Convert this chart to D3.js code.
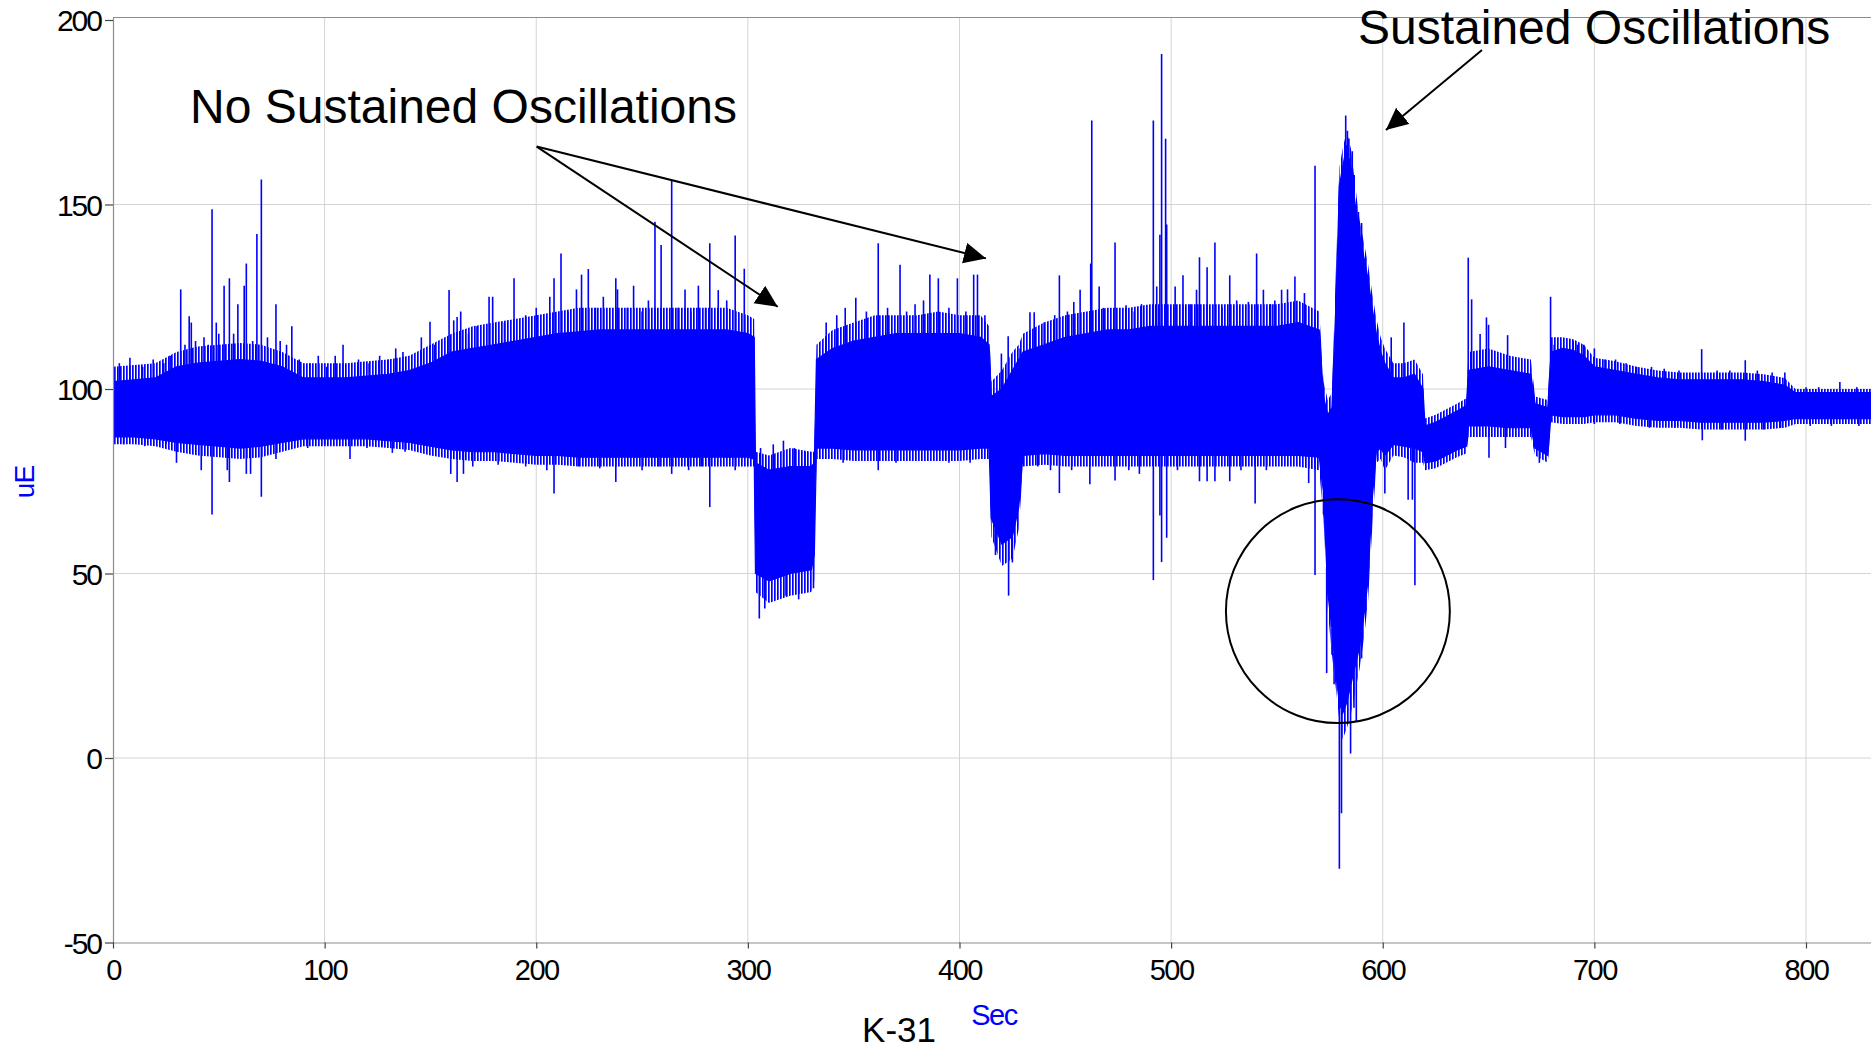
<!DOCTYPE html>
<html><head><meta charset="utf-8">
<script src="https://cdn.jsdelivr.net/npm/d3@7"></script>
<style>
html,body{margin:0;padding:0;background:#fff;}
svg{display:block;font-family:"Liberation Sans",Arial,sans-serif;}
</style>
</head><body>
<svg id="chart" width="1871" height="1049"></svg>
<script>
// ---------- data ----------
const xTicks = [0,100,200,300,400,500,600,700,800];
const yTicks = [-50,0,50,100,150,200];
const xLabel = "Sec";
const yLabel = "uE";
const chartTitle = "K-31";

// dense core band of the signal (time s, lower uE, upper uE)
const coreT  = [0,10,20,30,40,50,60,70,80,90,100,110,120,130,140,150,160,170,180,190,200,210,220,230,240,250,260,270,280,290,300,303,303.6,310,320,330,331.4,332.4,340,350,360,370,380,390,400,410,414,415,420,425,428,430,440,450,460,470,480,490,500,510,520,530,540,550,560,570,572,574,576,578,579.5,581,583,585,587,589,591,593,595,597,599,601,605,610,615,619,620,625,630,635,639.5,640.5,650,660,670,672,678,679.5,685,690,695,700,710,720,730,740,750,760,770,780,790,795,810,831];
const coreLo = [87,87,86.5,85.5,85,84.5,84,84.5,85.5,86.5,86.5,86.5,86.5,86,85.5,84.5,83.5,83,83,82.5,82,82,81.5,81.5,81.5,81.5,81.5,81.5,81.5,81.5,81.5,81,50,48,50,51,55,84,84,83.5,83.5,83.5,83.5,83.5,83.5,84,84,65,58,60,68,82,82.5,82,82,82,82,82,82,82,82,82,82,82,82,81.5,72,45,35,22,15,12,15,20,25,30,38,48,70,83,84,82,85,84.5,84,83,80,80.5,82,83.5,84.5,90,90,89.5,89.5,84,82,93,92.5,92.5,92.5,93,93,92,91.5,91.5,91,91,91,91,91.5,92,92,92];
const coreHi = [102,102.5,103,106,107,107.5,108,107.5,106,103,103,103,103.5,104,105,107,110,111,112,113,114,115,115.5,116,116,116,116,116,116,116,115,114,80,78,79,79,80,108,111,113,114,115,115,115,115,114,112,98,100,105,108,110,112,114,115,116,116,117,117,117,117,117,117,117,118,116,98,93,95,125,155,160,166,160,150,142,136,130,122,115,110,107,103,103,104,100,90,91,92.5,94,95.5,105,106,105,104,96,95,110,111,110.5,109,106,105,104,103,102.5,102.5,102.5,102.5,102,101,99,99,99];
// outer extent of the densely packed oscillation fringe around the core
const fringeLo = [85,85,84.5,83,82,81.5,81,81.5,83,84.5,84.5,84.5,84.5,84,83.5,82,81,80.5,80.5,80,79.5,79.5,79,79,79,79,79,79,79,79,79,79,45,42,44,45,48,81,81,80.5,80.5,80.5,80.5,80.5,80.5,81,81,60,52,54,62,79,79.5,79,79,79,79,79,79,79,79,79,79,79,79,78,65,40,28,18,10,5,8,12,18,24,32,42,62,80,81,78,82,81.5,80,80,78,78.5,80,81.5,82.5,87,87,87,87,82,80,91,90.5,90.5,90.5,91,91,90,89.5,89.5,89,89,89,89,89.5,90.5,90.5,90.5];
const fringeHi = [106,106.5,107,110,111.5,112,112.5,112,110,107,107,107,107.5,108,109,112,115,117,118,119,120,121,122,122,122,122,122,122,122,122,120,119,83,82,84,83,83,112,116,118,120,120,120,121,120,120,117,102,105,110,112,115,118,120,121,122,122,123,123,123,123,123,123,123,124,121,102,97,99,135,160,165,170,165,155,146,140,134,126,119,114,111,107,107,108,104,92,93,94.5,96,97.5,110,111,109,108,98,97,114,114,113.5,112,108.5,107.5,106,105,104.5,104.5,104.5,104.5,104,103,100,100,100];

// individual excursions beyond the core band (time s, uE)
const hairs = [
 [3,107],[8,108.5],[14,106],[19,108],[24,107],[27,109],[5,85],[15,84.5],[25,85],
 [32,127],[34,112],[36,119.7],[37,118],[39,113],[43,114],[45,112],[46.8,148.7],[48.8,118],[50,115],[52.5,128],[55,130],[57,115],[59,123],[62,128],[63,134],[66,113],[68,142],[70.1,156.8],[73,114],[77,123],[79,113],[82,112],[84.5,117],
 [30,80],[41.7,78],[46.8,66],[54,78],[55,74.8],[63,77],[65,77],[70.1,70.8],[77,81],
 [88,108],[93,107],[97,109],[101,106],[105,109],[108.7,112],[116,108],[121,107],[126,109],[130,108],[133.6,111],[137,110],
 [92,84],[100,85],[112,81],[120,84],[127,84.5],[132,82.7],[138,83],
 [145.7,114],[149.8,118.2],[152,112],[158.8,126.8],[161,118.6],[162.6,119.5],[164.3,121],[168,115],[172,117],[177.7,125],[179.4,125],[185,118],[189.5,130],[195,120],[200,122],[206.4,125],[208.4,130],[211.7,136.7],[215,121],[219,127],[221.4,131],[224.6,132.5],[228,122],[231.7,125],[237.6,130],[238.4,127],[243,122],[246,128],[250,121],[253,124],[256.1,145.3],[259,139],[264,156.6],[267,122],[270.3,127],[273,121],[276.6,128],[280,122],
 [159.6,77],[162.6,74.8],[165.6,77],[170,79],[182,79.5],[195,79],[205,78],[208.4,71.7],[220,79],[230,78.5],[237.6,74.8],[250,78],[258,79],[264,77],[272,78],[278,79],
 [282,139.5],[286,126.8],[290,124],[294,141.6],[298.3,132.6],[282,68],[294,78],
 [306,84],[312,85],[316.8,86],[322,84],[327,83],[305.4,37.8],[308,40.5],[318,44],[324,43],[331,46],
 [337,118],[342,120],[346,122],[351,124.7],[356,121],[361.6,139.5],[366,122],[371.9,133.7],[375,121],[379,123],[383,124],[386,131],[390,130],[395,122],[399,130],[403,121],[406.7,131],[408.5,131],[412,120],
 [345,80],[361.6,78],[370,80],[395,80],[405,80],
 [419.8,109.6],[423,114.3],[428.6,111],[417,55],[423.2,44],[425,53],
 [433.3,120.8],[435.3,120.8],[440,118],[445,120],[447.2,130.8],[451,121],[454,123.6],[457,126.9],[462,134],[462.5,172.8],[466,127.8],[468,122],[473.5,139.7],[478.7,122.7],[482.6,121],[486,123],[491.6,172.8],[493.2,127.8],[494.7,141.8],[495.5,190.8],[497.4,167.8],[497.9,144.6],[501.9,127.8],[505.6,130.8],[509,123],[512,126.9],[513.4,135.7],[517,133],[520.7,139.7],[524,122],[527.7,130.8],[531,124],[536.5,123.6],[540.4,136.7],[543.6,126.9],[547,123],[549,124],[552.2,126.9],
 [437,79],[443,78],[447.2,71.8],[453,78],[461.6,74.2],[473.5,75.2],[480,78],[485,77],[491.6,48.2],[494.7,65.7],[495.5,53.1],[497.9,59.7],[503,78],[513.4,75],[517,75],[520.7,75],[527.7,75],[533,78],[539.7,69],[545,78],
 [555,127],[558.5,130.5],[563,126],[568,160.5],[582.5,174.1],[583.3,170],[584,167.9],[585.6,164.4],[586.5,158],[588,143],[588.5,148],[590,145],[604,114],[610,118],
 [565,74.5],[568,49.6],[572,66],[573.5,23],[576,28],[577,20],[579.5,-30],[580.5,-15],[584.8,1.2],[586.4,13.6],[587.5,10],[590,27],[592,40],[601,71.7],[612,70],[614,70],[615.2,46.8],
 [640.4,135.6],[642,124.3],[646,114.9],[649,119.4],[650,117.4],[659,114.6],[679.3,125],[681,112],[650.2,81.4],[658,84],[674,80],
 [690,113],[692,112],[695,112],[700,111],[705,108],[710,108],[715,107],[720,106],[727,106],[733,105.5],[740,105],[750.7,110.8],[758,105],[764,105],[771.3,107.8],[777,105],[784,104.5],[790,104.5],[800,100.5],[806,100.5],[816,101.9],[824,100.5],
 [700,90.5],[712,90.5],[726,89.5],[738,89.5],[751,86.1],[760,89],[771.3,86],[780,89],[788,89.5],[802,90],[812,90],[825,90]
];

// annotations placed in data coordinates
const noSustText = {t:36.4, v:172.1, label:"No Sustained Oscillations"};
const noSustArrows = [{t0:200.2, v0:165.7, t1:314.1, v1:122.3},{t0:200.2, v0:165.7, t1:412.5, v1:135.4}];
const sustText = {t:588.3, v:193.4, label:"Sustained Oscillations"};
const sustArrow = {t0:646.9, v0:191.9, t1:601.5, v1:170.2};
const circleNote = {t:578.8, v:39.8, rSec:52.9};

// ---------- drawing ----------
const svg = d3.select("#chart");
const x = d3.scaleLinear().domain([0, 831]).range([113, 1871.6]);
const y = d3.scaleLinear().domain([-50, 200.68]).range([942.5, 17.5]);
const blue = "#0000ff";

const defs = svg.append("defs");
const pat = defs.append("pattern").attr("id", "hairfill").attr("patternUnits", "userSpaceOnUse")
  .attr("width", 3).attr("height", 6);
pat.append("rect").attr("x", 0).attr("y", 0).attr("width", 1.7).attr("height", 6).attr("fill", blue);

// grid
const grid = svg.append("g");
grid.selectAll("line.v").data(xTicks.filter(d => d > 0)).join("line")
  .attr("x1", d => x(d)).attr("x2", d => x(d)).attr("y1", y(200.68)).attr("y2", y(-50))
  .attr("stroke", "#d4d4d4").attr("stroke-width", 1);
grid.selectAll("line.h").data(yTicks.filter(d => d > -50 && d < 200)).join("line")
  .attr("x1", x(0)).attr("x2", 1871).attr("y1", d => y(d)).attr("y2", d => y(d))
  .attr("stroke", "#d4d4d4").attr("stroke-width", 1);

// clip
svg.append("clipPath").attr("id", "plotclip").append("rect")
  .attr("x", x(0)).attr("y", y(200.68)).attr("width", 1871 - x(0)).attr("height", y(-50) - y(200.68));

const plot = svg.append("g").attr("clip-path", "url(#plotclip)");
const band = coreT.map((t, i) => ({t, lo: coreLo[i], hi: coreHi[i], flo: fringeLo[i], fhi: fringeHi[i]}));
const fringeArea = d3.area().x(d => x(d.t)).y0(d => y(d.flo)).y1(d => y(d.fhi)).curve(d3.curveLinear);
const coreArea = d3.area().x(d => x(d.t)).y0(d => y(d.lo)).y1(d => y(d.hi)).curve(d3.curveLinear);
plot.append("path").datum(band).attr("d", fringeArea).attr("fill", "url(#hairfill)");
plot.append("path").datum(band).attr("d", coreArea)
  .attr("fill", blue).attr("stroke", blue).attr("stroke-width", 1.2);

const loAt = d3.scaleLinear().domain(coreT).range(coreLo);
const hiAt = d3.scaleLinear().domain(coreT).range(coreHi);
plot.selectAll("line.hair").data(hairs).join("line")
  .attr("x1", d => x(d[0])).attr("x2", d => x(d[0]))
  .attr("y1", d => d[1] >= hiAt(d[0]) ? y(hiAt(d[0])) : (d[1] <= loAt(d[0]) ? y(loAt(d[0])) : y(d[1])))
  .attr("y2", d => y(d[1]))
  .attr("stroke", blue).attr("stroke-width", 1.6);

// axes
const axisColor = "#8c8c8c";
svg.append("line").attr("x1", x(0)).attr("x2", 1871).attr("y1", y(200.68)).attr("y2", y(200.68))
  .attr("stroke", axisColor).attr("stroke-width", 1.2);

const fmt = d => String(d);
const yAxis = svg.append("g").attr("transform", `translate(${x(0)},0)`)
  .call(d3.axisLeft(y).tickValues(yTicks).tickSize(8).tickSizeOuter(0).tickPadding(4).tickFormat(fmt));
const xAxis = svg.append("g").attr("transform", `translate(0,${y(-50)})`)
  .call(d3.axisBottom(x).tickValues(xTicks).tickSize(6).tickSizeOuter(0).tickPadding(11).tickFormat(fmt));
[yAxis, xAxis].forEach(a => {
  a.select(".domain").attr("stroke", axisColor).attr("stroke-width", 1.2);
  a.selectAll(".tick line").attr("stroke", "#444").attr("stroke-width", 1.2);
  a.selectAll(".tick text").attr("fill", "#000").style("font-family", '"Liberation Sans",Arial,sans-serif');
});
yAxis.selectAll(".tick text").style("font-size", "30px").style("letter-spacing", "-2px").attr("dy", "0.36em");
xAxis.selectAll(".tick text").style("font-size", "29px").style("letter-spacing", "-1.5px");

// axis titles
svg.append("text").attr("x", 994).attr("y", 1025).attr("text-anchor", "middle")
  .attr("fill", blue).style("font-size", "29px").style("letter-spacing", "-1.5px").text(xLabel);
svg.append("text").attr("transform", "translate(34,482) rotate(-90)").attr("text-anchor", "middle")
  .attr("fill", blue).style("font-size", "28px").style("letter-spacing", "-1px").text(yLabel);
svg.append("text").attr("x", 899).attr("y", 1042).attr("text-anchor", "middle")
  .attr("fill", "#000").style("font-size", "35px").text(chartTitle);

// annotations
defs.append("marker").attr("id", "ah").attr("markerUnits", "userSpaceOnUse")
  .attr("markerWidth", 24).attr("markerHeight", 22).attr("refX", 22).attr("refY", 10.5)
  .attr("orient", "auto")
  .append("path").attr("d", "M0,0 L22,10.5 L0,21 Z").attr("fill", "#000");

svg.append("text").attr("x", x(noSustText.t)).attr("y", y(noSustText.v))
  .style("font-size", "48px").attr("fill", "#000").text(noSustText.label);
svg.append("text").attr("x", x(sustText.t)).attr("y", y(sustText.v))
  .style("font-size", "48px").attr("fill", "#000").text(sustText.label);

svg.selectAll("line.arrow").data([...noSustArrows, sustArrow]).join("line")
  .attr("x1", d => x(d.t0)).attr("y1", d => y(d.v0)).attr("x2", d => x(d.t1)).attr("y2", d => y(d.v1))
  .attr("stroke", "#000").attr("stroke-width", 2).attr("marker-end", "url(#ah)");

svg.append("circle").attr("cx", x(circleNote.t)).attr("cy", y(circleNote.v))
  .attr("r", x(circleNote.rSec) - x(0))
  .attr("fill", "none").attr("stroke", "#000").attr("stroke-width", 2);
</script>
</body></html>
